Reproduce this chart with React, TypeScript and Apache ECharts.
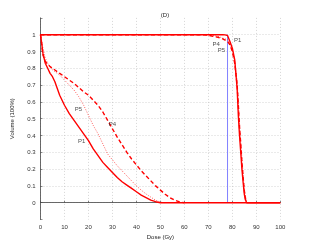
import React, { useEffect, useRef } from "react";
import * as echarts from "echarts";

const title = "(D)";
const xName = "Dose (Gy)";
const yName = "Volume (100%)";

// Organ-at-risk DVH curves
const p1LowX = [0, 0.5, 1, 2, 3, 4, 5, 6, 7, 8, 9, 10, 12, 14, 16, 18, 20, 22, 24, 26, 28, 30, 32, 34, 36, 38, 40, 42, 44, 46, 48, 50, 100];
const p1LowY = [1, 0.95, 0.89, 0.83, 0.8, 0.77, 0.75, 0.72, 0.68, 0.64, 0.61, 0.58, 0.53, 0.49, 0.45, 0.41, 0.37, 0.32, 0.28, 0.24, 0.21, 0.18, 0.15, 0.125, 0.105, 0.085, 0.065, 0.045, 0.03, 0.015, 0.006, 0, 0];

const p4LowX = [0, 1, 2, 4, 6, 8, 10, 12, 14, 16, 18, 20, 22, 24, 26, 28, 30, 32, 34, 36, 38, 40, 42, 44, 46, 48, 50, 52, 54, 56, 58, 60];
const p4LowY = [1, 0.88, 0.84, 0.81, 0.79, 0.77, 0.75, 0.73, 0.71, 0.685, 0.66, 0.64, 0.61, 0.58, 0.54, 0.49, 0.44, 0.39, 0.345, 0.3, 0.26, 0.225, 0.19, 0.16, 0.13, 0.1, 0.075, 0.05, 0.03, 0.015, 0.005, 0];

const p5LowX = [0, 1, 2, 3, 4, 5, 6, 8, 10, 12, 14, 16, 18, 20, 22, 24, 26, 28, 30, 32, 34, 36, 38, 40, 42, 44, 46, 48, 50, 52];
const p5LowY = [1, 0.92, 0.86, 0.83, 0.81, 0.79, 0.78, 0.76, 0.73, 0.7, 0.67, 0.63, 0.58, 0.52, 0.46, 0.41, 0.35, 0.29, 0.255, 0.22, 0.19, 0.16, 0.13, 0.1, 0.075, 0.052, 0.033, 0.015, 0.003, 0];

// Target DVH curves
const p1TgtX = [0, 76, 77, 78, 79, 80, 81, 82, 82.5, 83, 83.5, 84, 84.5, 85, 85.5, 86, 100];
const p1TgtY = [1, 1, 0.999, 0.995, 0.96, 0.92, 0.85, 0.68, 0.52, 0.4, 0.3, 0.2, 0.12, 0.05, 0.015, 0, 0];

const p4TgtX = [0, 68, 70, 72, 74, 76, 78, 79, 80, 81, 82, 82.5, 83, 83.5, 84, 84.5, 85, 85.5, 86];
const p4TgtY = [1, 1, 0.997, 0.99, 0.985, 0.975, 0.96, 0.94, 0.9, 0.83, 0.7, 0.58, 0.45, 0.35, 0.24, 0.15, 0.07, 0.02, 0];

const p5TgtX = [0, 70, 72, 74, 76, 78, 79, 80, 81, 82, 82.5, 83, 84, 85, 86];
const p5TgtY = [1, 1, 0.995, 0.99, 0.98, 0.97, 0.95, 0.91, 0.84, 0.72, 0.6, 0.47, 0.26, 0.08, 0];

// Prescription reference line
const refX = [78, 78];
const refY = [0, 1];

// Curve annotations
const labelText = ["P1", "P4", "P5", "P5", "P4", "P1"];
const labelX = [82.2, 73.3, 75.4, 15.8, 30, 17.2];
const labelY = [0.97, 0.945, 0.91, 0.56, 0.47, 0.37];

const pairs = (xs: number[], ys: number[]) => xs.map((x, i) => [x, ys[i]]);

const FONT = "Liberation Sans, Arial, sans-serif";
const RED = "#ff0000";

export default function App() {
  const ref = useRef<HTMLDivElement>(null);
  useEffect(() => {
    if (!ref.current) return;
    const chart = echarts.init(ref.current, null, { renderer: "svg" });
    const solid = { color: RED, width: 1.4, type: "solid" as const };
    const dashed = { color: RED, width: 1.4, type: [4, 2.5] };
    const dotted = { color: RED, width: 0.8, type: [1, 1.5], opacity: 0.8 };
    const lineSeries = (name: string, xs: number[], ys: number[], ls: any) => ({
      type: "line",
      name,
      data: pairs(xs, ys),
      showSymbol: false,
      symbol: "none",
      lineStyle: ls,
      z: 3,
    });
    const gridColors = Array.from({ length: 13 }, (_, i) => (i === 0 || i === 12 ? "rgba(0,0,0,0)" : "#bbbbbb"));
    chart.setOption({
      animation: false,
      title: {
        text: title,
        left: 160,
        top: 7,
        textAlign: "center",
        textStyle: { fontFamily: FONT, fontSize: 6, fontWeight: "normal", color: "#222" },
      },
      grid: { left: 40.5, right: 29.7, top: 17.9, bottom: 27.5 },
      xAxis: {
        type: "value",
        min: 0,
        max: 100,
        interval: 10,
        name: xName,
        nameLocation: "middle",
        nameGap: 12,
        nameTextStyle: { fontFamily: FONT, fontSize: 6, color: "#222" },
        axisLine: { show: true, lineStyle: { color: "#444", width: 0.8 } },
        axisTick: { show: true, inside: true, length: 2, lineStyle: { color: "#444", width: 0.6 } },
        axisLabel: { fontFamily: FONT, fontSize: 6, color: "#333", margin: 4 },
        splitLine: { show: true, lineStyle: { color: "#bbbbbb", width: 0.6, type: [1, 2] } },
      },
      yAxis: {
        type: "value",
        min: -0.1,
        max: 1.1,
        interval: 0.1,
        name: yName,
        nameLocation: "middle",
        nameGap: 26,
        nameRotate: 90,
        nameTextStyle: { fontFamily: FONT, fontSize: 6, color: "#222" },
        axisLine: { show: true, lineStyle: { color: "#444", width: 0.8 } },
        axisTick: { show: true, inside: true, length: 2, lineStyle: { color: "#444", width: 0.6 } },
        axisLabel: {
          fontFamily: FONT,
          fontSize: 6,
          color: "#333",
          margin: 5,
          formatter: (v: number) => (v < -0.01 || v > 1.01 ? "" : String(Math.round(v * 10) / 10)),
        },
        splitLine: { show: true, lineStyle: { color: gridColors, width: 0.6, type: [1, 2] } },
      },
      series: [
        {
          type: "line",
          name: "ref",
          data: pairs(refX, refY),
          showSymbol: false,
          symbol: "none",
          lineStyle: { color: "#8080ff", width: 1 },
          z: 2,
        },
        lineSeries("P5 OAR", p5LowX, p5LowY, dotted),
        lineSeries("P4 OAR", p4LowX, p4LowY, dashed),
        lineSeries("P1 OAR", p1LowX, p1LowY, solid),
        lineSeries("P5 PTV", p5TgtX, p5TgtY, dotted),
        lineSeries("P4 PTV", p4TgtX, p4TgtY, dashed),
        lineSeries("P1 PTV", p1TgtX, p1TgtY, solid),
        {
          type: "scatter",
          name: "labels",
          symbolSize: 0,
          data: labelText.map((t, i) => ({ value: [labelX[i], labelY[i]], name: t })),
          label: {
            show: true,
            position: "inside",
            formatter: (p: any) => p.name,
            fontFamily: FONT,
            fontSize: 6,
            color: "#222",
          },
          z: 5,
        },
      ],
    });
    return () => chart.dispose();
  }, []);
  return <div ref={ref} style={{ position: "fixed", left: 0, top: 0, width: 310, height: 247 }} />;
}
